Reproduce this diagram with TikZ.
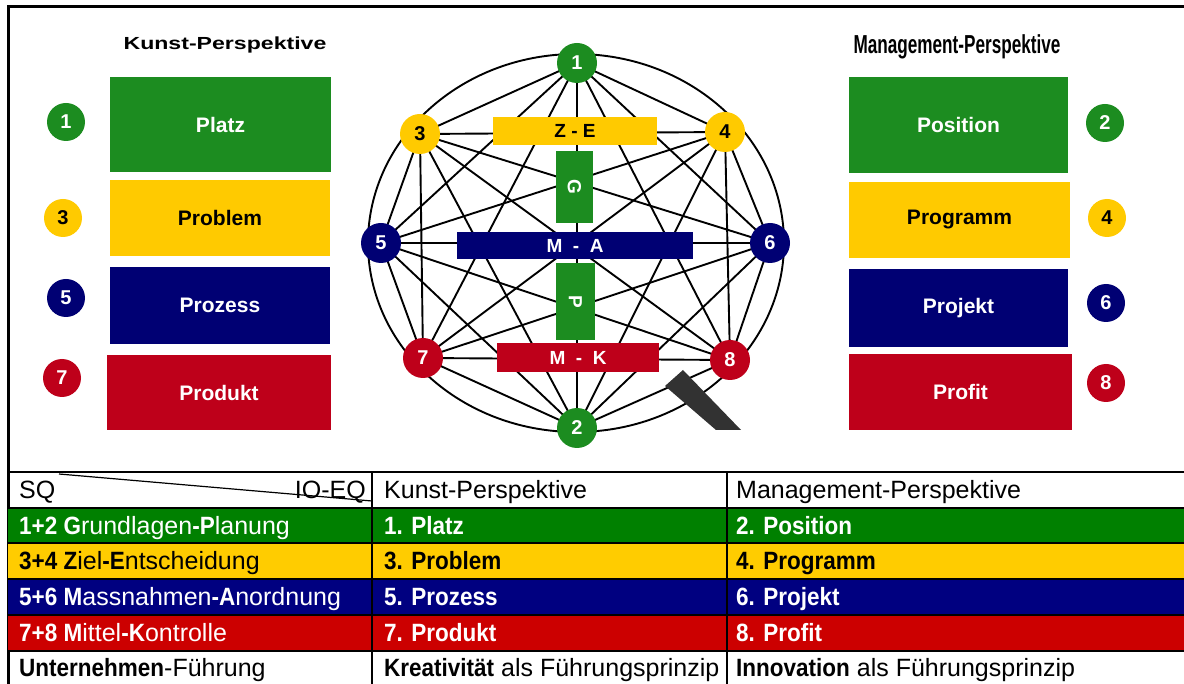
\documentclass[tikz,border=0pt]{standalone}
\usepackage{fontspec}
\usepackage{graphicx}
\setmainfont{Liberation Sans}
\newfontfamily\tablefont{Liberation Sans}[BoldFeatures={FakeStretch=0.9}]
\pgfdeclarelayer{edges}
\pgfdeclarelayer{bars}
\pgfsetlayers{edges,bars,main}
\definecolor{cgreen}{RGB}{28,140,32}
\definecolor{cyellow}{RGB}{255,202,0}
\definecolor{cnavy}{RGB}{0,0,115}
\definecolor{cred}{RGB}{190,0,26}
\definecolor{tgreen}{RGB}{0,128,0}
\definecolor{tyellow}{RGB}{255,204,0}
\definecolor{tnavy}{RGB}{0,0,128}
\definecolor{tred}{RGB}{204,0,0}
\definecolor{handlec}{RGB}{50,50,50}
\tikzset{
  panel/.style={rectangle, inner sep=0pt, font=\fontsize{21}{21}\selectfont\bfseries, text=white},
  badge/.style={circle, inner sep=0pt, minimum size=38, font=\fontsize{20}{20}\selectfont\bfseries, text=white},
  hub/.style={circle, inner sep=0pt, minimum size=40, font=\fontsize{20}{20}\selectfont\bfseries, text=white},
  bar/.style={rectangle, inner sep=0pt, font=\fontsize{19}{19}\selectfont\bfseries, text=white},
  edge/.style={line width=1.9pt, black},
  tcell/.style={anchor=base west, inner sep=0pt, font=\tablefont\fontsize{25}{25}\selectfont},
  rule/.style={line width=2.5pt, black},
}
\begin{document}
\begin{tikzpicture}[x=1pt,y=-1pt]
\useasboundingbox (0,0) rectangle (1184,684);
% frame
\draw[line width=3pt] (8,684) -- (8,7) -- (1184,7);

% titles
\node[font=\fontsize{17.5}{17.5}\selectfont\bfseries] (kt) at (225,45) {\scalebox{1.32}[1]{Kunst-Perspektive}};
\node[font=\fontsize{26}{26}\selectfont\bfseries] (mt) at (957,47) {\scalebox{0.66}[1]{Management-Perspektive}};

% left panels
\node[panel, fill=cgreen, minimum width=221, minimum height=95] (platz) at (220.5,124.5) {Platz};
\node[panel, fill=cyellow, minimum width=220, minimum height=76, text=black] (problem) at (220,218) {Problem};
\node[panel, fill=cnavy, minimum width=220, minimum height=77] (prozess) at (220,305.5) {Prozess};
\node[panel, fill=cred, minimum width=224, minimum height=75] (produkt) at (219,392.5) {Produkt};
\node[badge, fill=cgreen] (b1) at (66,122) {1};
\node[badge, fill=cyellow, text=black] (b3) at (63,218) {3};
\node[badge, fill=cnavy] (b5) at (66,298) {5};
\node[badge, fill=cred] (b7) at (62,378) {7};

% right panels
\node[panel, fill=cgreen, minimum width=219, minimum height=96] (position) at (958.5,125) {Position};
\node[panel, fill=cyellow, minimum width=221, minimum height=76, text=black] (programm) at (959.5,220) {Programm};
\node[panel, fill=cnavy, minimum width=219, minimum height=78] (projekt) at (958.5,308) {Projekt};
\node[panel, fill=cred, minimum width=223, minimum height=76] (profit) at (960.5,392) {Profit};
\node[badge, fill=cgreen] (b2) at (1105,123) {2};
\node[badge, fill=cyellow, text=black] (b4) at (1107,218) {4};
\node[badge, fill=cnavy] (b6) at (1106,303) {6};
\node[badge, fill=cred] (b8) at (1106,383) {8};

% center hubs
\node[hub, fill=cgreen] (n1) at (577,63) {1};
\node[hub, fill=cgreen] (n2) at (577,428) {2};
\node[hub, fill=cyellow, text=black] (n3) at (420,134) {3};
\node[hub, fill=cyellow, text=black] (n4) at (725,132) {4};
\node[hub, fill=cnavy] (n5) at (381,243) {5};
\node[hub, fill=cnavy] (n6) at (770,243) {6};
\node[hub, fill=cred] (n7) at (423,358) {7};
\node[hub, fill=cred] (n8) at (730,360) {8};
\coordinate (ec) at (576,243);

\begin{pgfonlayer}{edges}
\fill[white] (0,0) rectangle (1184,684);
\draw[edge] (ec) ellipse [x radius=208, y radius=189];
\foreach \i in {1,...,7}{
  \pgfmathtruncatemacro\s{\i+1}
  \foreach \j in {\s,...,8}{
    \draw[edge] (n\i.center) -- (n\j.center);
  }
}
\end{pgfonlayer}

\begin{pgfonlayer}{bars}
\node[bar, fill=cyellow, text=black, minimum width=164, minimum height=28] (ze) at (575,131) {Z - E};
\node[bar, fill=cgreen, minimum width=37, minimum height=72] (g) at (574.5,187) {\rotatebox{-90}{G}};
\node[bar, fill=cnavy, minimum width=236, minimum height=27] (ma) at (575,245.5) {M\ \ -\ \ A};
\node[bar, fill=cgreen, minimum width=39, minimum height=77] (p) at (575.5,301.5) {\rotatebox{-90}{P}};
\node[bar, fill=cred, minimum width=162, minimum height=29] (mk) at (578,357.5) {M\ \ -\ \ K};
\fill[handlec] (665,386) -- (683,370) -- (741,430) -- (716,430) -- cycle;
\end{pgfonlayer}

% table fills
\fill[tgreen] (8,508) rectangle (1184,543);
\fill[tyellow] (8,543) rectangle (1184,579);
\fill[tnavy] (8,579) rectangle (1184,615);
\fill[tred] (8,615) rectangle (1184,651);
% table rules
\foreach \yy in {472,508,543,579,615,651}{
  \draw[rule] (8,\yy) -- (1184,\yy);
}
\draw[rule] (372,472) -- (372,684);
\draw[rule] (727,472) -- (727,684);
\draw[line width=1.2pt] (59,474) -- (372,501);

% table text
\node[tcell] (h1) at (19,498) {SQ};
\node[tcell, anchor=base east] (h1b) at (366,498) {IO-EQ};
\node[tcell] (h2) at (384,498) {Kunst-Perspektive};
\node[tcell] (h3) at (736,498) {Management-Perspektive};

\node[tcell, text=white] (r1a) at (19,534) {\textbf{1+2 G}rundlagen\textbf{-P}lanung};
\node[tcell, text=white] (r1b) at (384,534) {\textbf{1. Platz}};
\node[tcell, text=white] (r1c) at (736,534) {\textbf{2. Position}};

\node[tcell] (r2a) at (19,569) {\textbf{3+4 Z}iel\textbf{-E}ntscheidung};
\node[tcell] (r2b) at (384,569) {\textbf{3. Problem}};
\node[tcell] (r2c) at (736,569) {\textbf{4. Programm}};

\node[tcell, text=white] (r3a) at (19,605) {\textbf{5+6 M}assnahmen\textbf{-A}nordnung};
\node[tcell, text=white] (r3b) at (384,605) {\textbf{5. Prozess}};
\node[tcell, text=white] (r3c) at (736,605) {\textbf{6. Projekt}};

\node[tcell, text=white] (r4a) at (19,641) {\textbf{7+8 M}ittel\textbf{-K}ontrolle};
\node[tcell, text=white] (r4b) at (384,641) {\textbf{7. Produkt}};
\node[tcell, text=white] (r4c) at (736,641) {\textbf{8. Profit}};

\node[tcell] (r5a) at (19,676) {\textbf{Unternehmen}-Führung};
\node[tcell] (r5b) at (384,676) {\textbf{Kreativität} als Führungsprinzip};
\node[tcell] (r5c) at (736,676) {\textbf{Innovation} als Führungsprinzip};
\end{tikzpicture}
\end{document}
